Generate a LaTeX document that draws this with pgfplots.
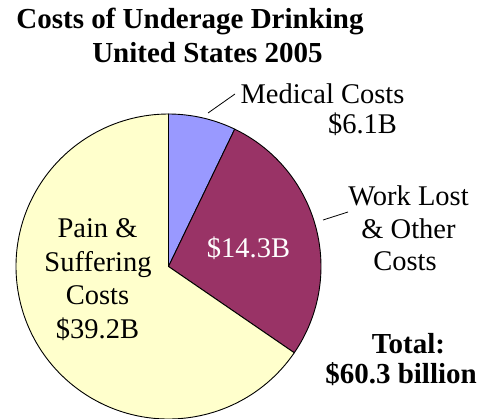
\documentclass[border=0pt]{standalone}
\usepackage{pgfplots}
\pgfplotsset{compat=1.18}
\usepackage{pgfplotstable}
\usepackage{fontspec}
\setmainfont{Liberation Serif}
\definecolor{medc}{HTML}{9999FF}
\definecolor{workc}{HTML}{993366}
\definecolor{painc}{HTML}{FFFFCC}
% slice shares (percent of the pie, as drawn)
\pgfplotstableread{
label share
Medical 7.15
Work 27.42
Pain 65.43
}\slices
\begin{document}
\begin{tikzpicture}
\pgfplotstablegetelem{0}{share}\of\slices \pgfmathsetmacro{\sA}{\pgfplotsretval}
\pgfplotstablegetelem{1}{share}\of\slices \pgfmathsetmacro{\sB}{\pgfplotsretval}
\pgfplotstablegetelem{2}{share}\of\slices \pgfmathsetmacro{\sC}{\pgfplotsretval}
\pgfmathsetmacro{\aA}{90}
\pgfmathsetmacro{\aB}{90-3.6*\sA}
\pgfmathsetmacro{\aC}{\aB-3.6*\sB}
\pgfmathsetmacro{\aD}{\aC-3.6*\sC}
\begin{axis}[
  at={(0,0)}, anchor=south west,
  scale only axis, width=484bp, height=419bp,
  xmin=0, xmax=484, ymin=0, ymax=419, y dir=reverse,
  hide axis, clip=false,
]
\def\R{152.5bp}
\filldraw[fill=medc, draw=black, line width=0.9bp] (axis cs:168.5,266.5) -- ++(\aA:\R) arc[start angle=\aA, end angle=\aB, radius=\R] -- cycle;
\filldraw[fill=workc, draw=black, line width=0.9bp] (axis cs:168.5,266.5) -- ++(\aB:\R) arc[start angle=\aB, end angle=\aC, radius=\R] -- cycle;
\filldraw[fill=painc, draw=black, line width=0.9bp] (axis cs:168.5,266.5) -- ++(\aC:\R) arc[start angle=\aC, end angle=\aD, radius=\R] -- cycle;
% leader lines
\draw[black, line width=0.8bp] (axis cs:208,113) -- (axis cs:235,94);
\draw[black, line width=0.8bp] (axis cs:323,220) -- (axis cs:348,212);
% title
\begin{scope}[every node/.style={anchor=base, inner sep=0pt, font=\fontsize{29bp}{33bp}\selectfont\bfseries}]
\node at (axis cs:190,29) {Costs of Underage Drinking};
\node at (axis cs:207.5,62) {United States 2005};
\node at (axis cs:408.5,353) {Total:};
\node at (axis cs:401,383) {\$60.3 billion};
\end{scope}
\begin{scope}[every node/.style={anchor=base, inner sep=0pt, font=\fontsize{28.5bp}{33bp}\selectfont}]
\node at (axis cs:322.5,103) {Medical Costs};
\node at (axis cs:362.5,133) {\$6.1B};
\node at (axis cs:408.5,205) {Work Lost};
\node at (axis cs:408.5,238) {\& Other};
\node at (axis cs:405,270) {Costs};
\node[text=white] at (axis cs:248.5,257) {\$14.3B};
\node at (axis cs:97.5,237) {Pain \&};
\node at (axis cs:98,271) {Suffering};
\node at (axis cs:97.5,304.5) {Costs};
\node at (axis cs:97.5,338) {\$39.2B};
\end{scope}
\end{axis}
\pgfresetboundingbox
\path (0,0) rectangle (484bp,419bp);
\end{tikzpicture}
\end{document}
